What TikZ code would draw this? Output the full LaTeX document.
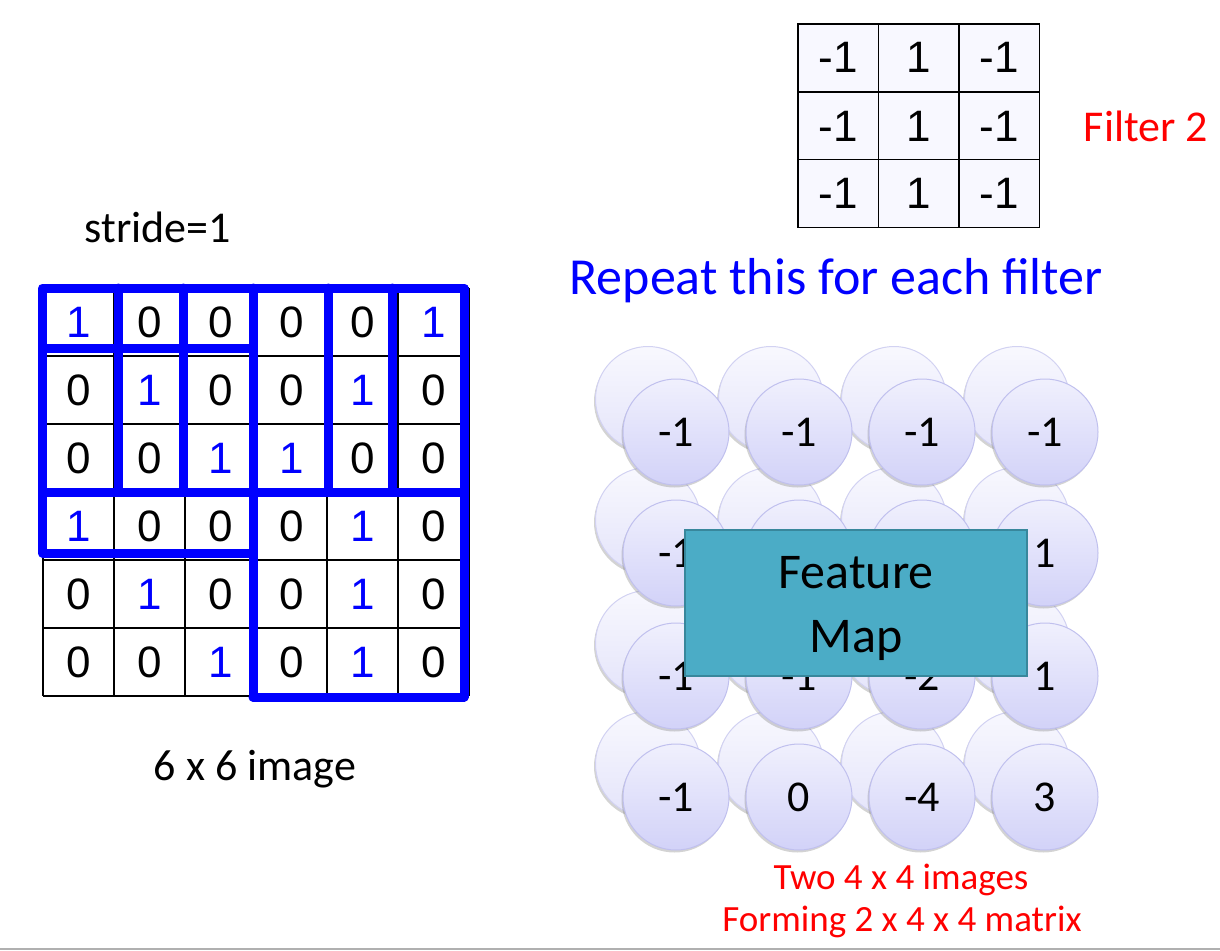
\documentclass[tikz,border=0pt]{standalone}
\usepackage{fontspec}
\newfontfamily\calfont{Carlito}
\newfontfamily\arialfont{Liberation Sans}
\usetikzlibrary{shadows}
\definecolor{pblue}{RGB}{0,0,255}
\definecolor{pred}{RGB}{255,0,0}
\definecolor{fmfill}{RGB}{75,172,198}
\definecolor{fmdraw}{RGB}{56,135,156}
\definecolor{ftop}{RGB}{240,240,253}
\definecolor{fbot}{RGB}{210,210,248}
\definecolor{fline}{RGB}{192,192,238}
\definecolor{btop}{RGB}{248,248,254}
\definecolor{bbot}{RGB}{228,228,250}
\definecolor{bline}{RGB}{210,210,242}
\definecolor{cellfill}{RGB}{248,248,255}
\definecolor{rulegray}{RGB}{176,176,176}
\tikzset{
  gridline/.style={black, line width=1.4pt},
  blueline/.style={pblue, line width=9pt, line cap=round, line join=round},
  d0/.style={font=\arialfont\fontsize{44}{50}\selectfont, text=black, inner sep=0pt},
  d1/.style={font=\arialfont\fontsize{44}{50}\selectfont, text=pblue, inner sep=0pt},
  fcell/.style={draw=black, line width=1.4pt, fill=cellfill, minimum width=80.5pt, minimum height=67.8pt, inner sep=0pt, font=\arialfont\fontsize{44}{50}\selectfont},
  caltext/.style={font=\calfont\fontsize{44}{52}\selectfont, inner sep=0pt, anchor=base},
  backc/.style={circle, minimum size=105pt, inner sep=0pt, top color=btop, bottom color=bbot, draw=bline, line width=1pt,
     drop shadow={shadow xshift=-1.5pt, shadow yshift=-2.5pt, fill=gray, opacity=.35}},
  frontc/.style={circle, minimum size=106pt, inner sep=0pt, top color=ftop, bottom color=fbot, draw=fline, line width=1pt,
     drop shadow={shadow xshift=-1.5pt, shadow yshift=-2.5pt, fill=gray, opacity=.35}},
  cnum/.style={font=\calfont\fontsize{44}{52}\selectfont, inner sep=0pt},
  fmbox/.style={draw=fmdraw, line width=2pt, fill=fmfill, minimum width=342pt, minimum height=146pt, inner sep=0pt},
  fmtext/.style={font=\calfont\fontsize{50}{60}\selectfont, inner sep=0pt, anchor=base},
}
\begin{document}
\begin{tikzpicture}[x=1pt,y=-1pt]
\useasboundingbox (0,0) rectangle (1220,950);

% ---- 6x6 image ----
\foreach \x in {43,114,185,256,327,398,469} \draw[gridline] (\x,288) -- (\x,696);
\foreach \y in {288,356,424,492,560,628,696} \draw[gridline] (43,\y) -- (469,\y);
\foreach \row/\y [count=\r from 0] in {{1,0,0,0,0,1}/322,{0,1,0,0,1,0}/390,{0,0,1,1,0,0}/458,{1,0,0,0,1,0}/526,{0,1,0,0,1,0}/594,{0,0,1,0,1,0}/662}{
  \foreach \v [count=\c from 0] in \row {
    \node[d\v] (g-\r-\c) at ({78.5+71*\c},\y) {\v};
  }
}
% blue sliding windows
\draw[blueline] (42.5,288) rectangle (464,492);
\foreach \x in {118,183,328,392} \draw[blueline] (\x,288) -- (\x,492);
\draw[blueline] (253,288) -- (253,697);
\draw[blueline] (42.5,348) -- (253,348);
\draw[blueline] (42.5,492) -- (42.5,553) -- (253,553);
\draw[blueline] (464,492) -- (464,697) -- (253,697);

\node[caltext] (stride) at (158,242) {stride=1};
\node[caltext] (imgcap) at (255,780) {6 x 6 image};

% ---- filter 2 ----
\foreach \y [count=\r from 0] in {57.8,125.9,193.6}{
  \node[fcell] (f-\r-0) at (838.3,\y) {-1};
  \node[fcell] (f-\r-1) at (918.7,\y) {1};
  \node[fcell] (f-\r-2) at (999.2,\y) {-1};
}
\node[caltext, text=pred] (ftitle) at (1146,141) {Filter 2};

\node[caltext, text=pblue, font=\calfont\fontsize{52}{60}\selectfont] (repeat) at (836,294) {Repeat this for each filter};

% ---- feature maps ----
\foreach \y [count=\r from 0] in {432,553,676,797}{
  \foreach \x [count=\c from 0] in {676,799,922,1045}{
    \node[backc] (b-\r-\c) at (\x-28,\y-33) {};
  }
}
\foreach \y [count=\r from 0] in {432,553,676,797}{
  \foreach \x [count=\c from 0] in {676,799,922,1045}{
    \node[frontc] (c-\r-\c) at (\x,\y) {};
  }
}
\foreach \row/\y [count=\r from 0] in {{-1,-1,-1,-1}/432,{-1,{},{},1}/553,{-1,-1,-2,1}/676,{-1,0,-4,3}/797}{
  \foreach \v [count=\c from 0] in \row {
    \node[cnum] (n-\r-\c) at ({676+123*\c},\y) {\v};
  }
}
\node[fmbox] (fm) at (856,603) {};
\node[fmtext] (fm1) at (856,588) {Feature};
\node[fmtext] (fm2) at (856,652) {Map};

\node[caltext, text=pred, font=\calfont\fontsize{37}{44}\selectfont] (two) at (901,889) {Two 4 x 4 images};
\node[caltext, text=pred, font=\calfont\fontsize{37}{44}\selectfont] (forming) at (902,931) {Forming 2 x 4 x 4 matrix};

\draw[rulegray, line width=1.2pt] (0,949) -- (1220,949);
\end{tikzpicture}
\end{document}
